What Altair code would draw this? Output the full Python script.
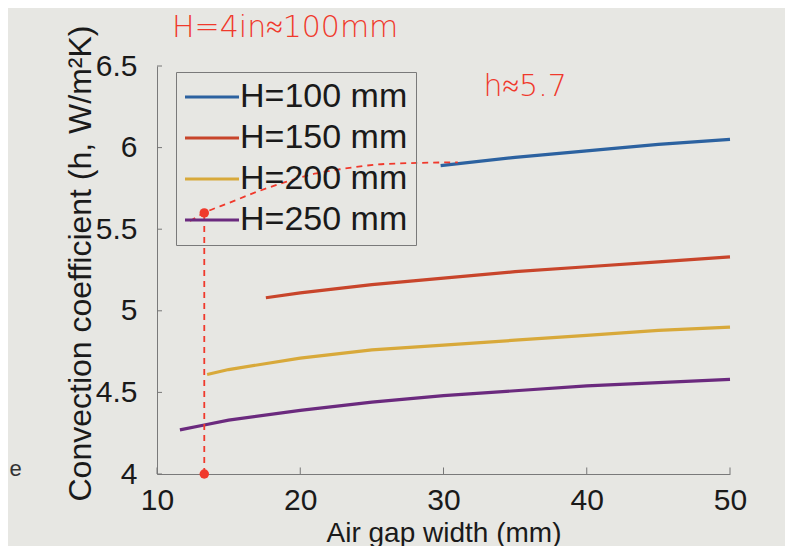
import altair as alt
import pandas as pd

# ---- data ----
series = ["H=100 mm", "H=150 mm", "H=200 mm", "H=250 mm"]
colors = ["#2c62a0", "#c8452b", "#d8a93a", "#6b2a7e"]

gap_100 = [29.8, 35, 40, 45, 50]
h_100 = [5.89, 5.94, 5.98, 6.02, 6.05]

gap_150 = [17.6, 20, 25, 30, 35, 40, 45, 50]
h_150 = [5.08, 5.11, 5.16, 5.20, 5.24, 5.27, 5.30, 5.33]

gap_200 = [13.5, 15, 20, 25, 30, 35, 40, 45, 50]
h_200 = [4.61, 4.64, 4.71, 4.76, 4.79, 4.82, 4.85, 4.88, 4.90]

gap_250 = [11.6, 13.3, 15, 20, 25, 30, 35, 40, 45, 50]
h_250 = [4.27, 4.30, 4.33, 4.39, 4.44, 4.48, 4.51, 4.54, 4.56, 4.58]

x_ticks = [10, 20, 30, 40, 50]
y_ticks = [4, 4.5, 5, 5.5, 6, 6.5]

# handwritten annotation (red)
dash_gap = [12.3, 13.3, 15, 17, 19, 21, 23, 26, 31]
dash_h = [5.55, 5.60, 5.66, 5.73, 5.79, 5.84, 5.87, 5.90, 5.91]
vline_gap = [13.3, 13.3]
vline_h = [4.0, 5.6]
dot_gap = [13.3, 13.3]
dot_h = [5.6, 4.0]
note_text = ["H=4in≈100mm", "h≈5.7"]
note_gap = [11.05, 32.8]
note_h = [6.735, 6.37]
stray_text = ["e"]
stray_gap = [-0.3]
stray_h = [4.03]

# ---- tables ----
rows = []
for name, gx, hy in zip(series, [gap_100, gap_150, gap_200, gap_250],
                        [h_100, h_150, h_200, h_250]):
    for g, h in zip(gx, hy):
        rows.append({"series": name, "gap": g, "h": h})
df = pd.DataFrame(rows)

df_dash = pd.DataFrame({"gap": dash_gap, "h": dash_h, "o": list(range(len(dash_gap)))})
df_vline = pd.DataFrame({"gap": vline_gap, "h": vline_h, "o": [0, 1]})
df_dots = pd.DataFrame({"gap": dot_gap, "h": dot_h})
df_notes = pd.DataFrame({"gap": note_gap, "h": note_h, "t": note_text})
df_stray = pd.DataFrame({"gap": stray_gap, "h": stray_h, "t": stray_text})
df_xt = pd.DataFrame({"gap": x_ticks, "h": [4.0] * len(x_ticks), "h2": [4.04] * len(x_ticks)})
df_yt = pd.DataFrame({"gap": [10] * len(y_ticks), "gap2": [10.35] * len(y_ticks), "h": y_ticks})

FONT = "Liberation Sans"
RED = "#f0392c"

X = alt.X("gap:Q",
          scale=alt.Scale(domain=[10, 50], nice=False, zero=False),
          axis=alt.Axis(values=x_ticks, title="Air gap width (mm)", ticks=False,
                        grid=False, labelFontSize=30, titleFontSize=28,
                        labelPadding=11, labelFlush=False, titleFontWeight="normal",
                        titleY=67, titleBaseline="alphabetic",
                        labelFont=FONT, titleFont=FONT))
Y = alt.Y("h:Q",
          scale=alt.Scale(domain=[4, 6.5], nice=False, zero=False),
          axis=alt.Axis(values=y_ticks, format="~g",
                        title="Convection coefficient (h, W/m²K)", ticks=False,
                        grid=False, labelFontSize=30, titleFontSize=32,
                        labelPadding=20, labelFlush=False, titleFontWeight="normal",
                        titleX=-77, titleY=197, titleAngle=-90,
                        titleAlign="center", titleBaseline="middle",
                        labelFont=FONT, titleFont=FONT))

lines = alt.Chart(df).mark_line(strokeWidth=3.2).encode(
    x=X, y=Y,
    color=alt.Color("series:N",
                    scale=alt.Scale(domain=series, range=colors),
                    sort=series,
                    legend=alt.Legend(title=None, orient="none", legendX=19, legendY=6,
                                      symbolType="M-2,0L2,0", symbolStrokeWidth=3,
                                      symbolSize=729, symbolOffset=11,
                                      labelFontSize=34, labelFont=FONT, labelLimit=400,
                                      labelColor="#1a1a1a", rowPadding=7, padding=8,
                                      strokeColor="#7a7a7a", labelOffset=11)),
    order=alt.Order("gap:Q"),
)

xticks_layer = alt.Chart(df_xt).mark_rule(color="#777777", strokeWidth=1).encode(
    x=X, y=Y, y2=alt.Y2("h2:Q"))
yticks_layer = alt.Chart(df_yt).mark_rule(color="#777777", strokeWidth=1).encode(
    x=X, x2=alt.X2("gap2:Q"), y=Y)

dash = alt.Chart(df_dash).mark_line(color=RED, strokeWidth=1.8, strokeDash=[6, 5],
                                    interpolate="monotone").encode(
    x=X, y=Y, order="o:Q")
vline = alt.Chart(df_vline).mark_line(color=RED, strokeWidth=1.8, strokeDash=[6, 5]).encode(
    x=X, y=Y, order="o:Q")
dots = alt.Chart(df_dots).mark_circle(color=RED, size=90, opacity=1).encode(x=X, y=Y)
notes = alt.Chart(df_notes).mark_text(color=RED, fontSize=30, align="left",
                                      baseline="middle", font="DejaVu Sans",
                                      fontWeight=200).encode(x=X, y=Y, text="t:N")
stray = alt.Chart(df_stray).mark_text(color="#333333", fontSize=22, align="left",
                                      baseline="middle", font=FONT).encode(x=X, y=Y, text="t:N")

chart = alt.layer(xticks_layer, yticks_layer, lines, dash, vline, dots, notes, stray).properties(
    width=573, height=408,
    padding={"left": 149, "top": 58, "right": 55, "bottom": 72},
    autosize=alt.AutoSizeParams(type="none"),
    background="#e7e7e3",
).configure_view(stroke=None).configure_axis(
    domainColor="#7a7a7a", labelColor="#1a1a1a", titleColor="#1a1a1a",
)

chart.save("out.html", embed_options={"renderer": "svg", "actions": False})
